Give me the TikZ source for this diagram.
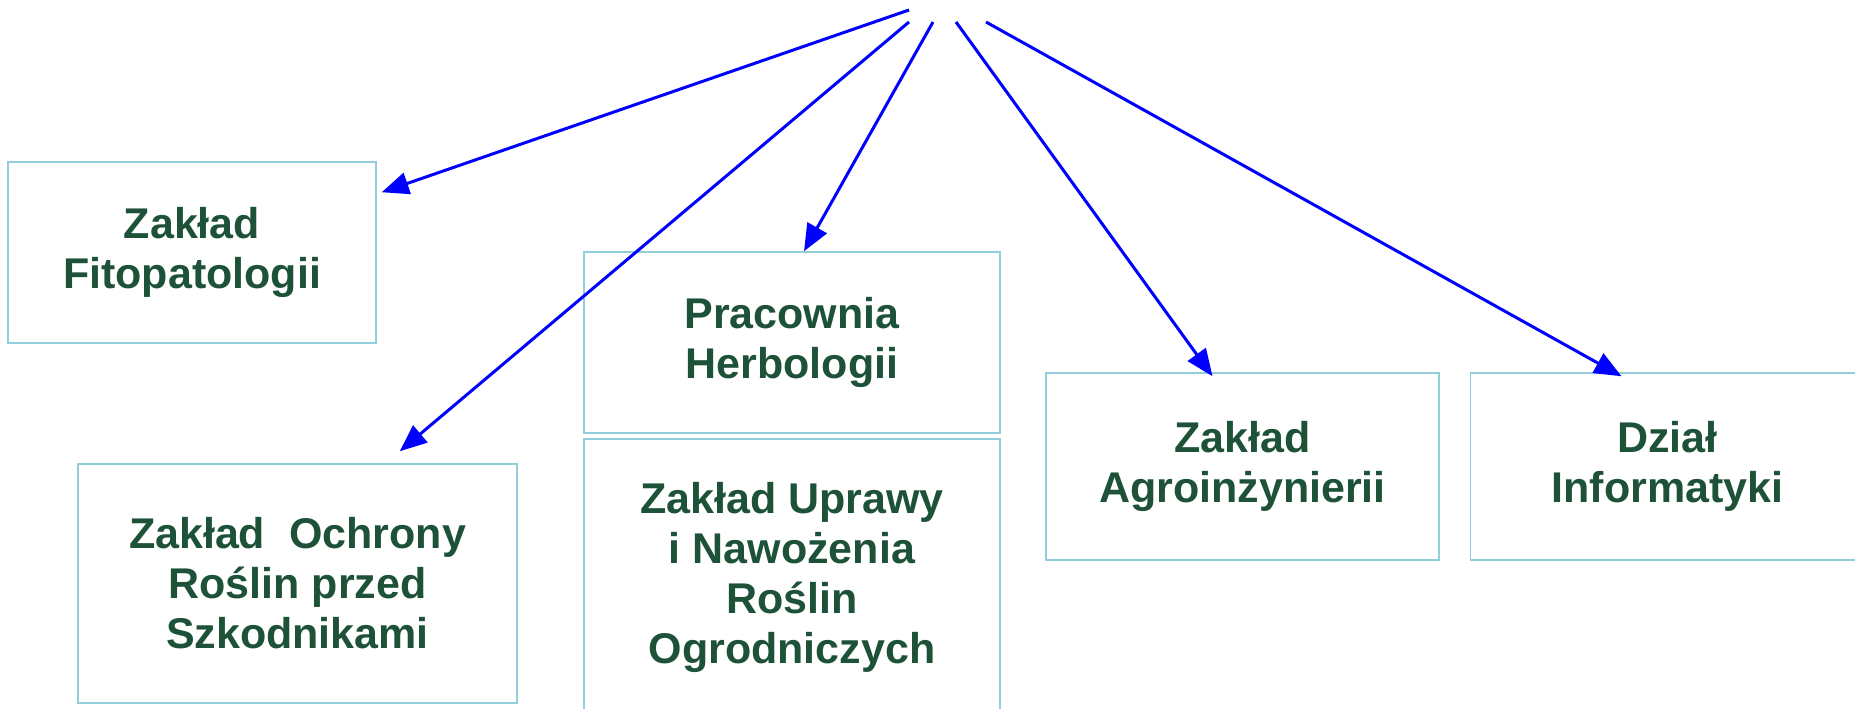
\documentclass[tikz,border=0pt]{standalone}
\usepackage{fontspec}
\setmainfont{Liberation Sans}
\usepackage{xcolor}
\usepackage{tikz}
\usetikzlibrary{arrows.meta,positioning}

\definecolor{ramka}{RGB}{146,205,220}
\definecolor{zielony}{RGB}{29,82,56}

\begin{document}
\begin{tikzpicture}[x=1pt, y=-1pt,
        dzial/.style={draw=ramka, line width=1.5pt, align=center, text=zielony, inner sep=0pt,
            font=\fontsize{43}{50}\selectfont\bfseries},
        strzalka/.style={draw=blue, line width=3pt, -{Triangle[length=27pt,width=22pt]}}
    ]
        \useasboundingbox (0,0) rectangle (1855,709);

        \node[dzial, minimum width=368pt, minimum height=181pt] (fito) at (192,252.5) {Zakład\\Fitopatologii};
        \node[dzial, minimum width=439pt, minimum height=239pt] (ochrona) at (297.5,583.5) {Zakład\ \ Ochrony\\Roślin przed\\Szkodnikami};
        \node[dzial, minimum width=416pt, minimum height=181pt] (herbologia) at (792,342.5) {Pracownia\\Herbologii};
        \node[dzial, minimum width=416pt, minimum height=276pt, below=4.5pt of herbologia] (uprawa) {Zakład Uprawy\\i Nawożenia\\Roślin\\Ogrodniczych};
        \node[dzial, minimum width=393pt, minimum height=187pt] (agro) at (1242.5,466.5) {Zakład\\Agroinżynierii};
        \node[dzial, minimum width=394pt, minimum height=187pt, right=30pt of agro] (informatyka) {Dział\\Informatyki};

        % wspolny poczatek strzalek u gory
        \coordinate (s1) at (909,10);
        \coordinate (s2) at (909,22);
        \coordinate (s3) at (933,22);
        \coordinate (s4) at (956,22);
        \coordinate (s5) at (986,22);

        \draw[strzalka] (s1) -- ([xshift=5pt,yshift=-31pt]fito.north east);
        \draw[strzalka] (s2) -- ([xshift=-118pt,yshift=12pt]ochrona.north east);
        \draw[strzalka] (s3) -- ([xshift=12pt]herbologia.north);
        \draw[strzalka] (s4) -- ([xshift=-30pt,yshift=-4pt]agro.north);
        \draw[strzalka] (s5) -- ([xshift=-46pt,yshift=-4pt]informatyka.north);
    \end{tikzpicture}
\end{document}
